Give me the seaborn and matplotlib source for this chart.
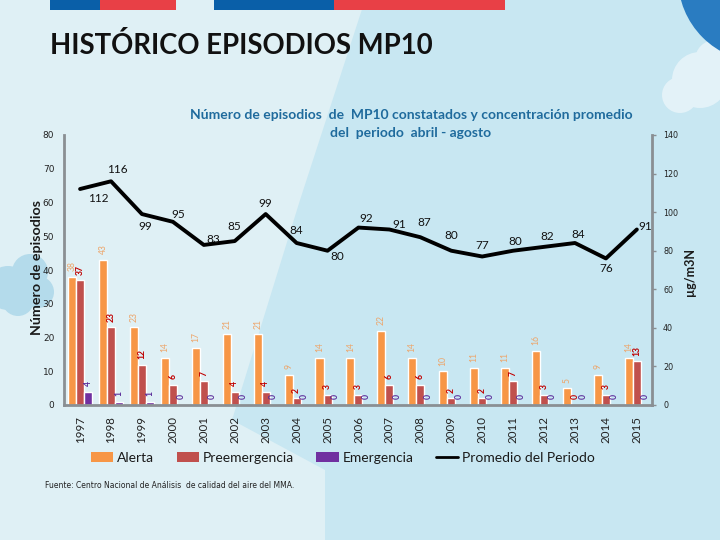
import numpy as np
import pandas as pd
import matplotlib
matplotlib.use('Agg')
from matplotlib import pyplot as plt
from matplotlib.patches import Polygon, Circle, Rectangle, Patch
from matplotlib.lines import Line2D
import seaborn as sns

# data
years = [str(y) for y in range(1997, 2016)]
alerta = [38, 43, 23, 14, 17, 21, 21, 9, 14, 14, 22, 14, 10, 11, 11, 16, 5, 9, 14]
preemergencia = [37, 23, 12, 6, 7, 4, 4, 2, 3, 3, 6, 6, 2, 2, 7, 3, 0, 3, 13]
emergencia = [4, 1, 1, 0, 0, 0, 0, 0, 0, 0, 0, 0, 0, 0, 0, 0, 0, 0, 0]
promedio = [112, 116, 99, 95, 83, 85, 99, 84, 80, 92, 91, 87, 80, 77, 80, 82, 84, 76, 91]
tipos = ['Alerta', 'Preemergencia', 'Emergencia']

# label offsets for the line values (pixels, y down)
line_label_offsets = [(18, 9), (6, -12), (3, 12), (5, -7), (9, -5), (0, -15), (0, -11),
                      (0, -13), (10, 6), (8, -9), (10, -5), (4, -15), (0, -15), (0, -11),
                      (2, -9), (3, -10), (3, -8), (0, 10), (8, -3)]

bar_colors = ['#f79646', '#c0504d', '#7030a0']
label_colors = ['#eda56a', '#c00000', '#5b2c9a']

sns.set_style('white')
plt.rcParams['font.family'] = ['Lato', 'DejaVu Sans']

W, H = 720, 540
fig = plt.figure(figsize=(7.2, 5.4), dpi=100)
fig.patch.set_facecolor('#c8e7f2')


def fx(x):
    return x / W


def fy(y):
    return 1 - y / H


# background decoration
bg = fig.add_axes([0, 0, 1, 1], zorder=-10)
bg.set_xlim(0, W)
bg.set_ylim(H, 0)
bg.axis('off')
bg.add_patch(Polygon([(0, 0), (365, 0), (300, 200), (232, 420), (325, 470), (325, 540), (0, 540)],
                     closed=True, fc='#dff0f5', ec='none'))
for cx, cy, r in [(8, 288, 22), (30, 272, 18), (38, 292, 16), (18, 300, 16)]:
    bg.add_patch(Circle((cx, cy), r, fc='#b4dbeb', ec='none'))
for cx, cy, r in [(700, 80, 28), (680, 95, 18), (715, 60, 20)]:
    bg.add_patch(Circle((cx, cy), r, fc='#e3f2f8', ec='none'))
bg.add_patch(Circle((762, -22), 84, fc='#2a7cc1', ec='none'))
# header stripes
for x0, x1, c in [(50, 100, '#0a5fa8'), (100, 176, '#e84046'),
                  (214, 334, '#0a5fa8'), (334, 505, '#e84046')]:
    bg.add_patch(Rectangle((x0, 0), x1 - x0, 10, fc=c, ec='none'))

# main axes
ax = fig.add_axes([64 / W, 1 - 405 / H, (652 - 64) / W, (405 - 135) / H])
ax.set_facecolor('none')

df = pd.DataFrame({
    'anio': years * 3,
    'tipo': np.repeat(tipos, len(years)),
    'valor': alerta + preemergencia + emergencia,
})
sns.barplot(data=df, x='anio', y='valor', hue='tipo', hue_order=tipos,
            palette=bar_colors, saturation=1, width=0.78, gap=0,
            errorbar=None, ax=ax, legend=False)

for cont, vals, col in zip(ax.containers, [alerta, preemergencia, emergencia], label_colors):
    ax.bar_label(cont, labels=[str(v) for v in vals], rotation=90, padding=4,
                 fontsize=6.2, color=col, fontweight='bold' if col != label_colors[0] else 'normal')

ax.set_ylim(0, 80)
ax.set_yticks(range(0, 81, 10))
ax.set_xlim(-0.52, 18.49)
ax.set_xlabel('')
ax.set_ylabel('')
ax.tick_params(axis='y', length=0, pad=7)
ax.tick_params(axis='x', length=0, pad=8)
for lab in ax.get_yticklabels():
    lab.set_family('DejaVu Sans')
    lab.set_fontsize(6.5)
    lab.set_color('#222222')
for lab in ax.get_xticklabels():
    lab.set_rotation(90)
    lab.set_fontsize(8.3)
    lab.set_color('#222222')
for s in ['top', 'right']:
    ax.spines[s].set_visible(False)
for s in ['left', 'bottom']:
    ax.spines[s].set_color('#8a8f93')
    ax.spines[s].set_linewidth(2)

# line on the second axis
ax2 = ax.twinx()
xpos = np.arange(len(years))
sns.lineplot(x=xpos, y=promedio, ax=ax2, color='black', lw=2.8, legend=False)
ax2.set_ylim(0, 140)
ax2.set_yticks(range(0, 141, 20))
ax2.set_xlim(-0.52, 18.49)
for i, v in enumerate(promedio):
    dx, dy = line_label_offsets[i]
    ax2.annotate(str(v), (xpos[i], v), xytext=(dx * 0.72, -dy * 0.72),
                 textcoords='offset points', ha='center', va='center',
                 fontsize=8.5, color='#111111')
for s in ['top', 'left', 'bottom']:
    ax2.spines[s].set_visible(False)
ax2.spines['right'].set_color('#8a8f93')
ax2.spines['right'].set_linewidth(2)
ax2.tick_params(axis='y', length=3, width=1, color='#8a8f93', pad=5)
for lab in ax2.get_yticklabels():
    lab.set_family('DejaVu Sans')
    lab.set_fontsize(5.8)
    lab.set_color('#222222')

# texts
fig.text(fx(50), fy(46), 'HISTÓRICO EPISODIOS MP10', fontsize=19.8, fontweight='bold',
         color='#111111', ha='left', va='center')
fig.text(fx(411), fy(115), 'Número de episodios  de  MP10 constatados y concentración promedio',
         fontsize=10, fontweight='bold', color='#1f6b9d', ha='center', va='center')
fig.text(fx(411), fy(133), 'del  periodo  abril - agosto',
         fontsize=10, fontweight='bold', color='#1f6b9d', ha='center', va='center')
fig.text(fx(37), fy(268), 'Número de episodios', rotation=90, fontsize=10.3,
         fontweight='bold', color='#1a1a1a', ha='center', va='center')
fig.text(fx(690), fy(272), 'µg/m3N', rotation=90, fontsize=9,
         fontweight='bold', color='#1a1a1a', ha='center', va='center')
fig.text(fx(45), fy(486), 'Fuente: Centro Nacional de Análisis  de calidad del aire del MMA.',
         fontsize=5.5, color='#222222', ha='left', va='center', family='DejaVu Sans')

handles = [Patch(fc=c, ec='none') for c in bar_colors]
handles.append(Line2D([0], [0], color='black', lw=2))
fig.legend(handles, tipos + ['Promedio del Periodo'], loc='center',
           bbox_to_anchor=(fx(343), fy(458)), ncol=4, frameon=False,
           fontsize=10, handlelength=1.6, handleheight=0.75, handletextpad=0.3,
           columnspacing=1.6, labelcolor='#1a1a1a')

fig.savefig('out.png', dpi=100, facecolor=fig.get_facecolor())
